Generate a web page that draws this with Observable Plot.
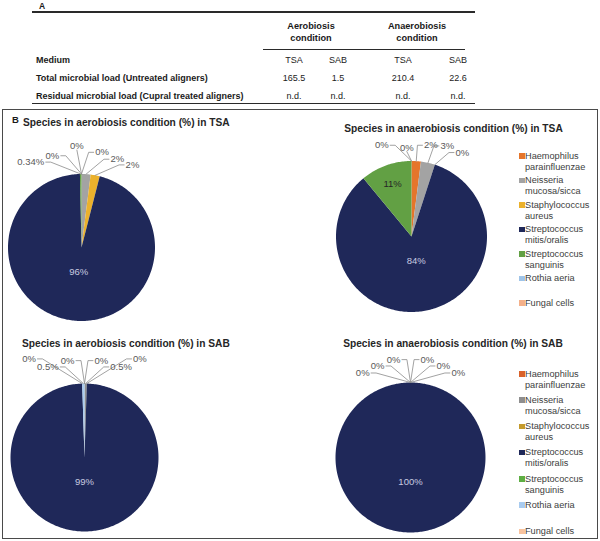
<!DOCTYPE html>
<html><head><meta charset="utf-8">
<script src="https://cdn.jsdelivr.net/npm/d3@7"></script>
<script src="https://cdn.jsdelivr.net/npm/@observablehq/plot@0.6"></script>
<style>
body{margin:0;background:#fff;font-family:"Liberation Sans",Arial,sans-serif;color:#1a1a1a}
#fig{position:relative;width:600px;height:541px;overflow:hidden}
.abs{position:absolute;white-space:nowrap;line-height:1}
.rule{position:absolute;background:#2a2a2a}
.b{font-weight:bold}
.legend .item{position:relative}
.legend .sw{position:absolute;left:0;top:2.5px;width:5.5px;height:5.5px}
.legend .tx{position:absolute;left:6px;top:0;width:74px;font-size:9.2px;line-height:11px;color:#404040}
</style></head><body><div id="fig"></div>
<script>
// ---------- data ----------
const species = ["Haemophilus parainfluenzae","Neisseria mucosa/sicca","Staphylococcus aureus","Streptococcus mitis/oralis","Streptococcus sanguinis","Rothia aeria","Fungal cells"];
const aeroTSA   = [0, 2, 2, 96, 0.34, 0, 0];
const anaeroTSA = [2, 3, 0, 84, 11, 0, 0];
const aeroSAB   = [0, 0.5, 0, 99, 0, 0.5, 0];
const anaeroSAB = [0, 0, 0, 100, 0, 0, 0];
const pieTitles = ["Species in aerobiosis condition (%) in TSA","Species in anaerobiosis condition (%) in TSA","Species in aerobiosis condition (%) in SAB","Species in anaerobiosis condition (%) in SAB"];
const conditions = ["Aerobiosis condition","Anaerobiosis condition"];
const media = ["TSA","SAB","TSA","SAB"];
const rowLabels = ["Medium","Total microbial load (Untreated aligners)","Residual microbial load (Cupral treated aligners)"];
const totalLoad = ["165.5","1.5","210.4","22.6"];
const residualLoad = ["n.d.","n.d.","n.d.","n.d."];
const panelLetters = ["A","B"];

// ---------- palettes ----------
const colorsTop = ["#E5752B","#A3A3A3","#EBB12C","#1F2859","#62A044","#9FC4E8","#F4B08A"];
const colorsBottom = ["#D9622B","#8E8E8E","#C49A2C","#1F2859","#5DAE43","#A8CBEF","#F8C3A0"];

const fig = document.getElementById("fig");
function el(tag, cls, css, text){const e=document.createElement(tag); if(cls) e.className=cls; Object.assign(e.style, css||{}); if(text!=null) e.textContent=text; fig.appendChild(e); return e;}

// ---------- table A ----------
el("div","abs b",{left:"39px",top:"2px",fontSize:"8.5px"},panelLetters[0]);
el("div","rule",{left:"32px",top:"11px",width:"443px",height:"1.6px"});
el("div","rule",{left:"263px",top:"49px",width:"202px",height:"1px"});
el("div","rule",{left:"32px",top:"103px",width:"443px",height:"1.4px"});
const condCenters=[311,417];
conditions.forEach((c,i)=>{
  const w=c.split(" ");
  el("div","abs b",{left:condCenters[i]+"px",top:"20px",fontSize:"9.2px",lineHeight:"12px",textAlign:"center",transform:"translateX(-50%)"},"").innerHTML=w[0]+"<br>"+w[1];
});
const colCenters=[294,338,403,458];
const rowY=[61,79,97];
rowLabels.forEach((t,i)=>el("div","abs b",{left:"36px",top:(rowY[i]-5)+"px",fontSize:"9px"},t));
[media,totalLoad,residualLoad].forEach((row,r)=>row.forEach((t,j)=>
  el("div","abs",{left:colCenters[j]+"px",top:(rowY[r]-5)+"px",fontSize:"9px",transform:"translateX(-50%)",color:"#222"},t)));

// ---------- panel B box ----------
el("div","",{position:"absolute",left:"2px",top:"109px",width:"596px",height:"430px",border:"1px solid #4a4a4a",boxSizing:"border-box"});
el("div","abs b",{left:"12px",top:"115px",fontSize:"9.5px"},panelLetters[1]);

// ---------- pies ----------
const charW={"0":.556,"1":.556,"2":.556,"3":.556,"4":.556,"5":.556,"6":.556,"7":.556,"8":.556,"9":.556,".":.278,"%":.889};
function pie(values, colors, cx, cy, r, labelTopLimit){
  const W=250,H=205,cxs=125,cys=122,FS=9.5,h=FS+1;
  const limit=cy-labelTopLimit; // max height (px, upward) of label tops above pie centre
  const arcs=d3.pie().sort(null).value(d=>d)(values);
  const slices=arcs.map((a,i)=>({species:species[i],value:values[i],a0:a.startAngle,a1:a.endAngle,i,color:colors[i]}));
  const poly=[];
  for(const s of slices){
    if(s.a1-s.a0<=0) continue;
    const n=Math.max(2,Math.ceil((s.a1-s.a0)/(Math.PI/180))+1);
    poly.push({species:s.species,x:0,y:0});
    for(let k=0;k<n;k++){const t=s.a0+(s.a1-s.a0)*k/(n-1);poly.push({species:s.species,x:Math.sin(t),y:Math.cos(t)});}
  }
  // inside labels
  const inside=slices.filter(s=>s.value>=5).map(s=>{const m=(s.a0+s.a1)/2,rr=s.value>50?0.33:0.74;return {x:rr*Math.sin(m),y:rr*Math.cos(m),text:s.value+"%",dark:d3.hsl(s.color).l<0.35};});
  // outside labels: fan by angle, then push apart to avoid overlaps
  const small=slices.filter(s=>s.value<5).map(s=>{let m=(s.a0+s.a1)/2,key;const mid=m;if(m>Math.PI){m-=2*Math.PI;key=m-1e-9*(10-s.i);}else key=m+1e-9*s.i;return {...s,mid,ang:m,key,text:s.value+"%"};}).sort((a,b)=>a.key-b.key);
  const gap=10*Math.PI/180;
  for(let it=0;it<400;it++)for(let k=0;k<small.length-1;k++){const d=small[k+1].ang-small[k].ang;if(d<gap){const sh=(gap-d)/2;small[k].ang-=sh;small[k+1].ang+=sh;}}
  const sideOf=a=>{const deg=a*180/Math.PI;return deg<-4?-1:deg>4?1:0;};
  const dMax=(a)=>{const side=sideOf(a);return (limit-(side===0?1+h:h/2))/Math.cos(a);};
  const boxOf=(s,a,D)=>{
    const ax=D*Math.sin(a),ay=D*Math.cos(a),w=[...s.text].reduce((t,c)=>t+(charW[c]||.556),0)*FS;
    const side=sideOf(a);
    const x0=side===-1?ax-w-1.5:side===1?ax+1.5:ax-w/2, x1=x0+w;
    const y0=side===0?ay+1:ay-h/2, y1=y0+h;
    return {ax,ay,side,x0,x1,y0,y1,ang:a};
  };
  const ovl=(a,b)=>a.x0<b.x1+1&&b.x0<a.x1+1&&a.y0<b.y1&&b.y0<a.y1;
  const placed=[];
  [...small].sort((a,b)=>Math.abs(a.ang)-Math.abs(b.ang)).forEach(s=>{
    let a=s.ang;
    const sg=a<0?-1:1;
    let D=Math.min(r+25-0.35*Math.abs(a*180/Math.PI),dMax(a)),b=boxOf(s,a,D);
    let n=0;
    while(placed.some(p=>ovl(p,b))&&n++<400){
      if(D+1<=dMax(a)) D+=1; else {a+=sg*0.5*Math.PI/180; D=Math.min(D,dMax(a));}
      b=boxOf(s,a,D);
    }
    s.box=b;placed.push(b);
  });
  const lines=[],labs=[];
  small.forEach((s,k)=>{
    const b=s.box;
    const px=b.ax/r,py=b.ay/r;
    lines.push({k,x:Math.sin(s.mid),y:Math.cos(s.mid)});
    if(b.side!==0){lines.push({k,x:px-b.side*5/r,y:py});lines.push({k,x:px,y:py});}
    else lines.push({k,x:px,y:py});
    labs.push({side:b.side,x:px+b.side*1.5/r,y:b.side===0?py+1/r:py,text:s.text});
  });
  const lab=(side,anchor,lineAnchor)=>Plot.text(labs.filter(d=>d.side===side),{x:"x",y:"y",text:"text",textAnchor:anchor,lineAnchor,fontSize:FS,fill:"#595959"});
  const svg=Plot.plot({
    width:W,height:H,margin:0,
    x:{axis:null,domain:[-cxs/r,(W-cxs)/r]},
    y:{axis:null,domain:[-(H-cys)/r,cys/r]},
    color:{domain:species,range:colors},
    style:{background:"transparent",overflow:"visible",maxWidth:"none",fontFamily:"'Liberation Sans',Arial,sans-serif"},
    marks:[
      Plot.line(poly,{x:"x",y:"y",z:"species",fill:"species",stroke:"none",curve:"linear-closed"}),
      Plot.line(lines,{x:"x",y:"y",z:"k",stroke:"#8a8a8a",strokeWidth:0.8}),
      lab(-1,"end","middle"),lab(1,"start","middle"),lab(0,"middle","bottom"),
      Plot.text(inside.filter(d=>d.dark),{x:"x",y:"y",text:"text",fontSize:FS,fill:"#c8cbe0"}),
      Plot.text(inside.filter(d=>!d.dark),{x:"x",y:"y",text:"text",fontSize:FS,fill:"#262626"})
    ]
  });
  const wrap=el("div","",{position:"absolute",left:(cx-cxs)+"px",top:(cy-cys)+"px",width:W+"px",height:H+"px"});
  wrap.appendChild(svg);
}
pie(aeroTSA,colorsTop,80.5,246.5,73.5,136);
pie(anaeroTSA,colorsTop,410.5,235.5,75.5,139);
pie(aeroSAB,colorsBottom,84,457,74,353);
pie(anaeroSAB,colorsBottom,409.5,457,75,353);

// ---------- titles ----------
const tStyle={fontSize:"10.2px",color:"#262626"};
el("div","abs b",{...tStyle,left:"23px",top:"118px"},pieTitles[0]);
el("div","abs b",{...tStyle,left:"453.5px",top:"124px",transform:"translateX(-50%)"},pieTitles[1]);
el("div","abs b",{...tStyle,left:"22px",top:"339px"},pieTitles[2]);
el("div","abs b",{...tStyle,left:"453px",top:"339px",transform:"translateX(-50%)"},pieTitles[3]);

// ---------- legends ----------
function legend(colors,left,top,slot){
  const d=el("div","legend",{position:"absolute",left:left+"px",top:top+"px"});
  species.forEach((s,i)=>{
    const it=document.createElement("div");it.className="item";it.style.height=slot+"px";
    const sw=document.createElement("div");sw.className="sw";sw.style.background=colors[i];
    const tx=document.createElement("div");tx.className="tx";tx.textContent=s;
    it.appendChild(sw);it.appendChild(tx);d.appendChild(it);
  });
}
legend(colorsTop,519,150.5,24.5);
legend(colorsBottom,519,368.5,26.3);
</script></body></html>
